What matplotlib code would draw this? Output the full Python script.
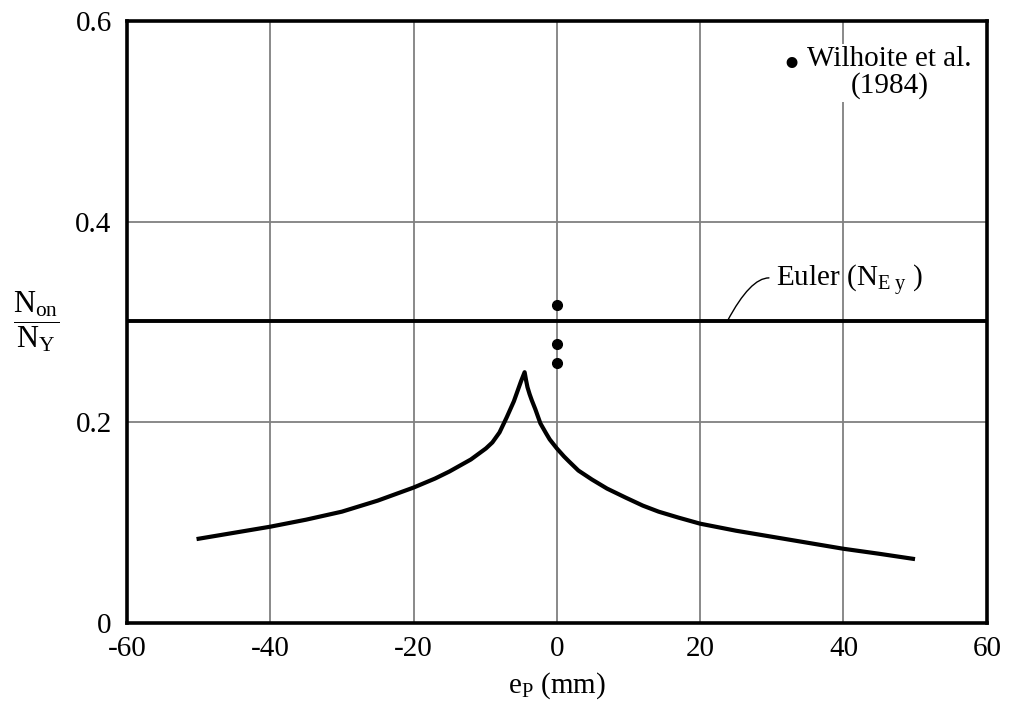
import matplotlib
matplotlib.use("Agg")
import matplotlib.pyplot as plt

plt.rcParams['font.family'] = ['Liberation Serif', 'DejaVu Serif']
plt.rcParams['mathtext.fontset'] = 'custom'
plt.rcParams['mathtext.rm'] = 'Liberation Serif'
plt.rcParams['mathtext.it'] = 'Liberation Serif:italic'
plt.rcParams['axes.unicode_minus'] = False

# curve
ep = [-50, -45, -40, -35, -30, -25, -20, -17, -15, -12, -9.9, -9, -8, -7.4, -7, -6.5, -6,
      -5.5, -5, -4.5, -4.3, -4.1, -3.8, -3.5, -3, -2.3, -1.5, -1, 0, 1, 1.7, 3, 4.9, 7, 9.6,
      12, 14.2, 17, 20, 25, 30, 35, 40, 45, 49.7]
n_ratio = [0.084, 0.090, 0.096, 0.103, 0.111, 0.122, 0.135, 0.144, 0.151, 0.163, 0.174, 0.180, 0.190, 0.199, 0.205, 0.213, 0.221,
           0.231, 0.241, 0.250, 0.242, 0.235, 0.228, 0.222, 0.213, 0.199, 0.189, 0.183, 0.174, 0.166, 0.161, 0.152, 0.143, 0.134, 0.125,
           0.117, 0.111, 0.105, 0.099, 0.092, 0.086, 0.080, 0.074, 0.069, 0.064]

# Wilhoite et al. (1984) tests
test_ep = [0, 0, 0]
test_n = [0.317, 0.278, 0.259]

euler = 0.301

fs = 21

fig = plt.figure(figsize=(10.1, 7.13), dpi=100)
ax = fig.add_axes([0.1257, 0.1262, 0.8513, 0.8443])

ax.grid(True, color='#808080', lw=1.3)
ax.set_axisbelow(True)
ax.plot(ep, n_ratio, color='black', lw=3.0, solid_joinstyle='round')
ax.axhline(euler, color='black', lw=2.8)
ax.plot(test_ep, test_n, 'o', color='black', ms=7)

ax.set_xlim(-60, 60)
ax.set_ylim(0, 0.6)
ax.set_xticks([-60, -40, -20, 0, 20, 40, 60])
ax.set_yticks([0, 0.2, 0.4, 0.6])
ax.set_yticklabels(['0', '0.2', '0.4', '0.6'])
ax.tick_params(length=0, labelsize=fs)
ax.tick_params(axis='y', pad=11)
ax.tick_params(axis='x', pad=9)
for s in ax.spines.values():
    s.set_linewidth(2.6)

ax.set_xlabel(r'e$_{\mathrm{P}}$ (mm)', fontsize=fs, labelpad=6)
fig.text(0.013, 0.549, r'$\dfrac{\mathrm{N_{on}}}{\mathrm{N_{Y}}}$', fontsize=22,
         ha='left', va='center')

# Euler leader and label
ax.annotate('', xy=(23.8, euler), xytext=(29.6, 0.344),
            arrowprops=dict(arrowstyle='-', lw=1.0, color='black', shrinkA=0, shrinkB=0,
                            connectionstyle='angle3,angleA=0,angleB=62'))
ax.text(30.6, 0.335, r'Euler (N$_{\mathrm{E\,\,y}}$ )', fontsize=fs, ha='left', va='baseline')

# key
ax.text(0.887, 0.958, 'Wilhoite et al.\n(1984)', transform=ax.transAxes,
        ha='center', va='top', multialignment='center', fontsize=fs, linespacing=1.0,
        bbox=dict(facecolor='white', edgecolor='none', pad=2))
ax.text(0.773, 0.905, '\u2022', transform=ax.transAxes, ha='center', va='baseline',
        fontsize=fs + 12)

fig.savefig('out.png', dpi=100)
